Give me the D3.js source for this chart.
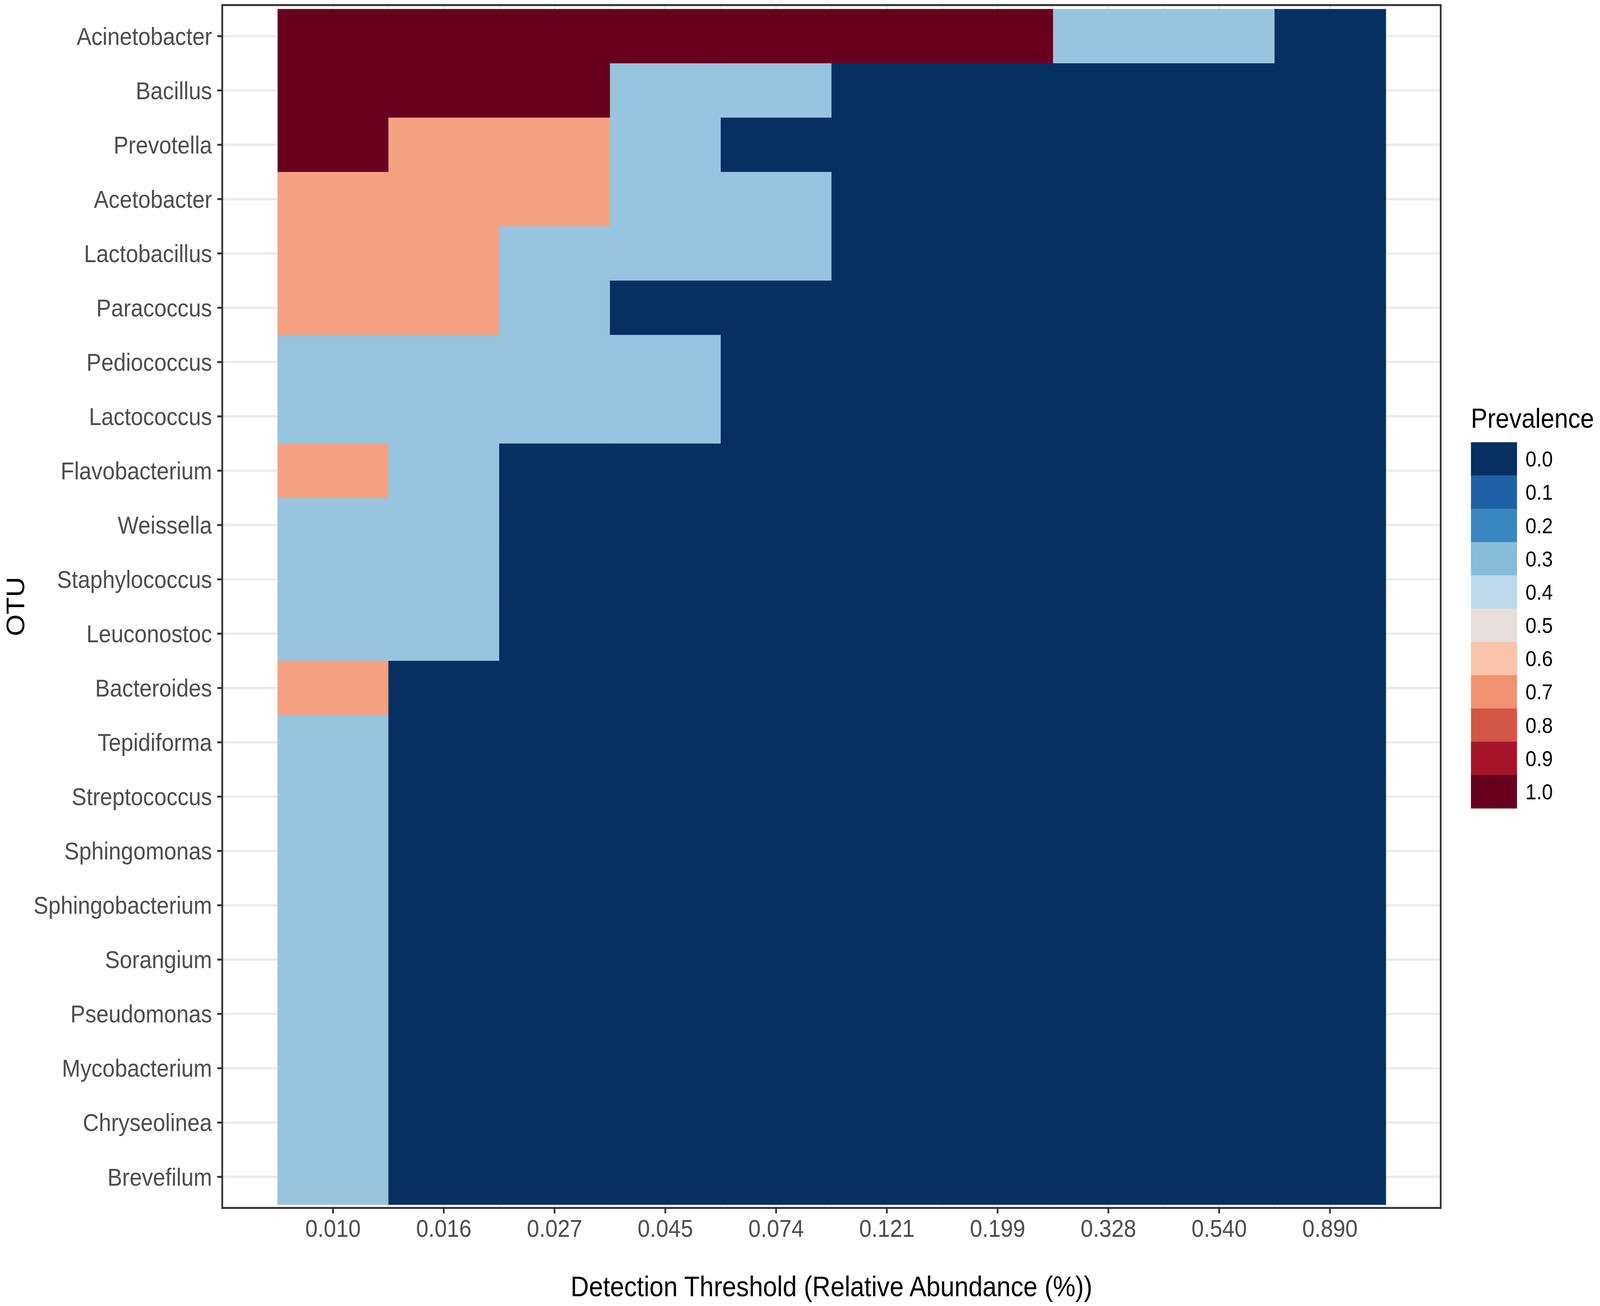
<!DOCTYPE html>
<html>
<head>
<meta charset="utf-8">
<script src="https://cdn.jsdelivr.net/npm/d3@7"></script>
<style>
  html, body { margin: 0; padding: 0; background: #fff; overflow: hidden; }
  svg { display: block; }
  text { font-family: "Liberation Sans", Arial, sans-serif; }
</style>
</head>
<body>
<div id="chart"></div>
<script>
// OTUs, top to bottom
const otus = ["Acinetobacter", "Bacillus", "Prevotella", "Acetobacter", "Lactobacillus",
  "Paracoccus", "Pediococcus", "Lactococcus", "Flavobacterium", "Weissella",
  "Staphylococcus", "Leuconostoc", "Bacteroides", "Tepidiforma", "Streptococcus",
  "Sphingomonas", "Sphingobacterium", "Sorangium", "Pseudomonas", "Mycobacterium",
  "Chryseolinea", "Brevefilum"];

// detection thresholds (x tick labels)
const thresholds = ["0.010", "0.016", "0.027", "0.045", "0.074", "0.121", "0.199", "0.328", "0.540", "0.890"];

// prevalence per OTU, one value per threshold
const prevalence = [
  [1, 1, 1, 1, 1, 1, 1, 0.33, 0.33, 0],
  [1, 1, 1, 0.33, 0.33, 0, 0, 0, 0, 0],
  [1, 0.67, 0.67, 0.33, 0, 0, 0, 0, 0, 0],
  [0.67, 0.67, 0.67, 0.33, 0.33, 0, 0, 0, 0, 0],
  [0.67, 0.67, 0.33, 0.33, 0.33, 0, 0, 0, 0, 0],
  [0.67, 0.67, 0.33, 0, 0, 0, 0, 0, 0, 0],
  [0.33, 0.33, 0.33, 0.33, 0, 0, 0, 0, 0, 0],
  [0.33, 0.33, 0.33, 0.33, 0, 0, 0, 0, 0, 0],
  [0.67, 0.33, 0, 0, 0, 0, 0, 0, 0, 0],
  [0.33, 0.33, 0, 0, 0, 0, 0, 0, 0, 0],
  [0.33, 0.33, 0, 0, 0, 0, 0, 0, 0, 0],
  [0.33, 0.33, 0, 0, 0, 0, 0, 0, 0, 0],
  [0.67, 0, 0, 0, 0, 0, 0, 0, 0, 0],
  [0.33, 0, 0, 0, 0, 0, 0, 0, 0, 0],
  [0.33, 0, 0, 0, 0, 0, 0, 0, 0, 0],
  [0.33, 0, 0, 0, 0, 0, 0, 0, 0, 0],
  [0.33, 0, 0, 0, 0, 0, 0, 0, 0, 0],
  [0.33, 0, 0, 0, 0, 0, 0, 0, 0, 0],
  [0.33, 0, 0, 0, 0, 0, 0, 0, 0, 0],
  [0.33, 0, 0, 0, 0, 0, 0, 0, 0, 0],
  [0.33, 0, 0, 0, 0, 0, 0, 0, 0, 0],
  [0.33, 0, 0, 0, 0, 0, 0, 0, 0, 0]
];

// legend keys
const legendBreaks = [0, 0.1, 0.2, 0.3, 0.4, 0.5, 0.6, 0.7, 0.8, 0.9, 1.0];
const legendColors = ["#053061", "#1f5fa5", "#3a87bf", "#86bbda", "#bcd9eb", "#e6dfdb",
  "#fac4a9", "#f09372", "#d15747", "#a51529", "#67001f"];

// drawing is laid out on the reference's 4550x3343 grid and stretched to the window
const W = 4550, H = 3343;
const panel = { left: 632, right: 4097, top: 13, bottom: 3092 };

const svg = d3.select("#chart").append("svg")
  .attr("viewBox", `0 0 ${W} ${H}`)
  .attr("preserveAspectRatio", "none")
  .style("width", "100vw").style("height", "100vh")
  .style("background", "#fff");

// scales
const x = d3.scaleBand().domain(thresholds)
  .range([panel.left, panel.right])
  .paddingInner(0).paddingOuter(0.5);

const y = d3.scaleBand().domain(otus)
  .range([panel.top, panel.bottom])
  .paddingInner(0).paddingOuter(0.072);

const color = d3.scaleLinear().domain(legendBreaks).range(legendColors)
  .interpolate(d3.interpolateLab);

// flatten to cells
const cells = [];
otus.forEach((otu, i) => {
  thresholds.forEach((t, j) => cells.push({ otu: otu, threshold: t, value: prevalence[i][j] }));
});

// grid lines (panel background)
const grid = svg.append("g");
const minorX = thresholds.map(t => x(t)).concat([x(thresholds[thresholds.length - 1]) + x.bandwidth()]);
grid.selectAll(".minor-x").data(minorX).join("line")
  .attr("x1", d => d).attr("x2", d => d)
  .attr("y1", panel.top).attr("y2", panel.bottom)
  .attr("stroke", "#ebebeb").attr("stroke-width", 3);
grid.selectAll(".major-x").data(thresholds).join("line")
  .attr("x1", d => x(d) + x.bandwidth() / 2).attr("x2", d => x(d) + x.bandwidth() / 2)
  .attr("y1", panel.top).attr("y2", panel.bottom)
  .attr("stroke", "#ebebeb").attr("stroke-width", 6);
grid.selectAll(".major-y").data(otus).join("line")
  .attr("x1", panel.left).attr("x2", panel.right)
  .attr("y1", d => y(d) + y.bandwidth() / 2).attr("y2", d => y(d) + y.bandwidth() / 2)
  .attr("stroke", "#ebebeb").attr("stroke-width", 6);

// tiles (small overlap hides seams)
svg.append("g").selectAll("rect").data(cells).join("rect")
  .attr("x", d => x(d.threshold))
  .attr("y", d => y(d.otu))
  .attr("width", x.bandwidth() + 2)
  .attr("height", y.bandwidth() + 2)
  .attr("fill", d => color(d.value));

// axes
const yAxis = svg.append("g")
  .attr("transform", `translate(${panel.left},0)`)
  .call(d3.axisLeft(y).tickSize(14).tickPadding(15));
const xAxis = svg.append("g")
  .attr("transform", `translate(0,${panel.bottom})`)
  .call(d3.axisBottom(x).tickSize(14).tickPadding(15));

[xAxis, yAxis].forEach(a => {
  a.select(".domain").remove();
  a.selectAll(".tick line").attr("stroke", "#333333").attr("stroke-width", 5);
  a.selectAll(".tick text")
    .attr("fill", "#4d4d4d")
    .style("font-size", "63px")
    .style("font-family", "'Liberation Sans', Arial, sans-serif");
});
yAxis.selectAll(".tick text").attr("dy", "0.35em");

// panel border
svg.append("rect")
  .attr("x", panel.left).attr("y", panel.top)
  .attr("width", panel.right - panel.left).attr("height", panel.bottom - panel.top)
  .attr("fill", "none").attr("stroke", "#333333").attr("stroke-width", 5);

// axis titles
svg.append("text")
  .attr("x", (panel.left + panel.right) / 2).attr("y", 3318)
  .attr("text-anchor", "middle")
  .style("font-size", "72px").attr("fill", "#000")
  .text("Detection Threshold (Relative Abundance (%))");

svg.append("text")
  .attr("transform", `translate(69,${(panel.top + panel.bottom) / 2}) rotate(-90)`)
  .attr("text-anchor", "middle")
  .style("font-size", "72px").attr("fill", "#000")
  .text("OTU");

// legend
const legend = svg.append("g").attr("transform", "translate(4183,0)");
legend.append("text")
  .attr("x", 0).attr("y", 1095)
  .style("font-size", "70px").attr("fill", "#000")
  .text("Prevalence");

const keyY = d3.scaleBand().domain(legendBreaks).range([1132, 2069]);
legend.selectAll("rect").data(legendBreaks).join("rect")
  .attr("x", 0).attr("y", d => keyY(d))
  .attr("width", 131).attr("height", keyY.bandwidth() + 0.5)
  .attr("fill", d => color(d));
legend.selectAll(".lab").data(legendBreaks).join("text")
  .attr("x", 155).attr("y", d => keyY(d) + keyY.bandwidth() / 2)
  .attr("dy", "0.35em")
  .style("font-size", "56px").attr("fill", "#000")
  .text(d => d3.format(".1f")(d));
</script>
</body>
</html>
